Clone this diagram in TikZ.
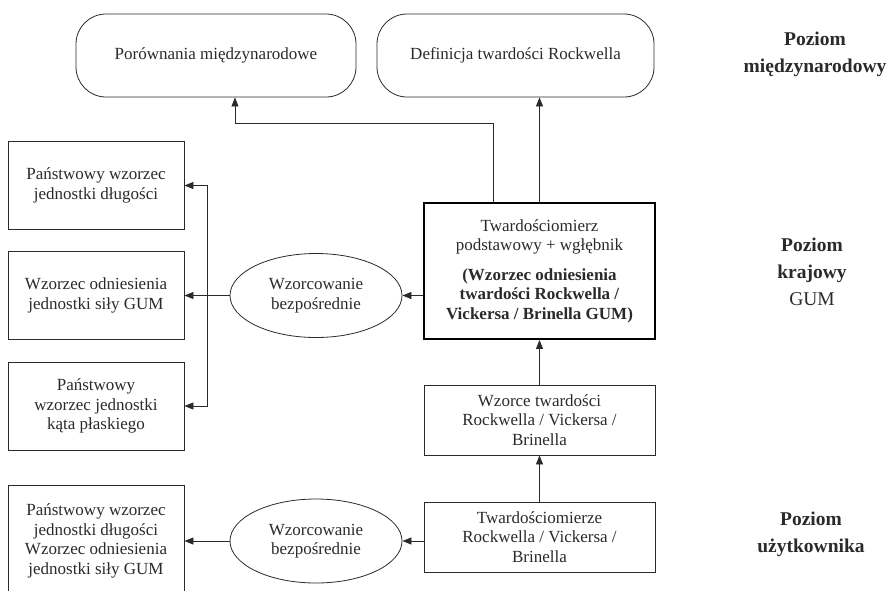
\documentclass[tikz,border=0pt]{standalone}
\usepackage{fontspec}
\setmainfont{Liberation Serif}
\usetikzlibrary{arrows.meta,shapes.geometric}
\definecolor{ink}{HTML}{2A2A2A}
\tikzset{
  txt/.style={font=\fontsize{17}{19.5}\selectfont, text=ink, align=center},
  lbl/.style={font=\fontsize{19.5}{27}\selectfont\bfseries, text=ink, align=center},
  box/.style={txt, draw=ink, line width=0.8pt, inner sep=0pt},
  rbox/.style={box, rounded corners=30pt, minimum width=280pt, minimum height=83pt},
  lbox/.style={box, minimum width=176pt, minimum height=88pt},
  cbox/.style={box, minimum width=231pt, minimum height=70pt},
  oval/.style={txt, draw=ink, line width=0.8pt, ellipse, minimum width=172pt, minimum height=84pt, inner sep=0pt},
  conn/.style={draw=ink, line width=0.8pt},
  arr/.style={conn, -{Triangle[length=9pt,width=7pt]}}
}
\begin{document}
\begin{tikzpicture}[x=1pt,y=-1pt]
\useasboundingbox (0,0) rectangle (890,590);
\clip (0,0) rectangle (890,590);
% top rounded boxes
\node[rbox] (p1) at (216,55.5) {Porównania międzynarodowe};
\node[rbox, minimum width=277pt] (p2) at (515.5,55.5) {Definicja twardości Rockwella};
% main box
\node[box, draw=black, line width=1.8pt, minimum width=231pt, minimum height=136pt] (main) at (539.5,271)
 {Twardościomierz\\ podstawowy + wgłębnik\\[10pt]
  \textbf{(Wzorzec odniesienia}\\ \textbf{twardości Rockwella /}\\ \textbf{Vickersa / Brinella GUM)}};
% left boxes
\node[lbox] (A) at (96,185.5) {Państwowy wzorzec\\ jednostki długości};
\node[lbox] (B) at (96,295.5) {Wzorzec odniesienia\\ jednostki siły GUM};
\node[lbox] (C) at (96,406) {Państwowy\\ wzorzec jednostki\\ kąta płaskiego};
% ellipses
\node[oval] (e1) at (316,295.5) {Wzorcowanie\\ bezpośrednie};
\node[oval] (e2) at (316,541) {Wzorcowanie\\ bezpośrednie};
% lower center boxes
\node[cbox] (w) at (539.5,420) {Wzorce twardości\\ Rockwella / Vickersa /\\ Brinella};
\node[cbox] (t) at (539.5,537) {Twardościomierze\\ Rockwella / Vickersa /\\ Brinella};
% bottom-left box (cut by the page edge)
\node[box, minimum width=176pt, minimum height=130pt, anchor=north] (L) at (96,485) {};
\node[txt] (Lt) at (96,541) {Państwowy wzorzec\\ jednostki długości\\ Wzorzec odniesienia\\ jednostki siły GUM};
% level labels
\node[lbl] (l1) at (815,54) {Poziom\\ międzynarodowy};
\node[lbl] (l2) at (812,272) {Poziom\\ krajowy\\ {\mdseries GUM}};
\node[lbl] (l3) at (811,534) {Poziom\\ użytkownika};
% connectors
\draw[arr] (main.north) -- (main.north |- p2.south);
\coordinate (k) at (235,123);
\draw[arr] ([xshift=-46pt]main.north) |- (k) -- (k |- p1.south);
\draw[arr] (main.west |- e1.east) -- (e1.east);
\draw[arr] (e1.west) -- (B.east);
\coordinate (j) at (207,295.5);
\draw[arr] (j) |- (A.east);
\draw[arr] (j) |- (C.east);
\draw[arr] (w.north) -- (main.south);
\draw[arr] (t.north) -- (w.south);
\draw[arr] (t.west |- e2.east) -- (e2.east);
\draw[arr] (e2.west) -- (e2.west -| L.east);
\end{tikzpicture}
\end{document}
